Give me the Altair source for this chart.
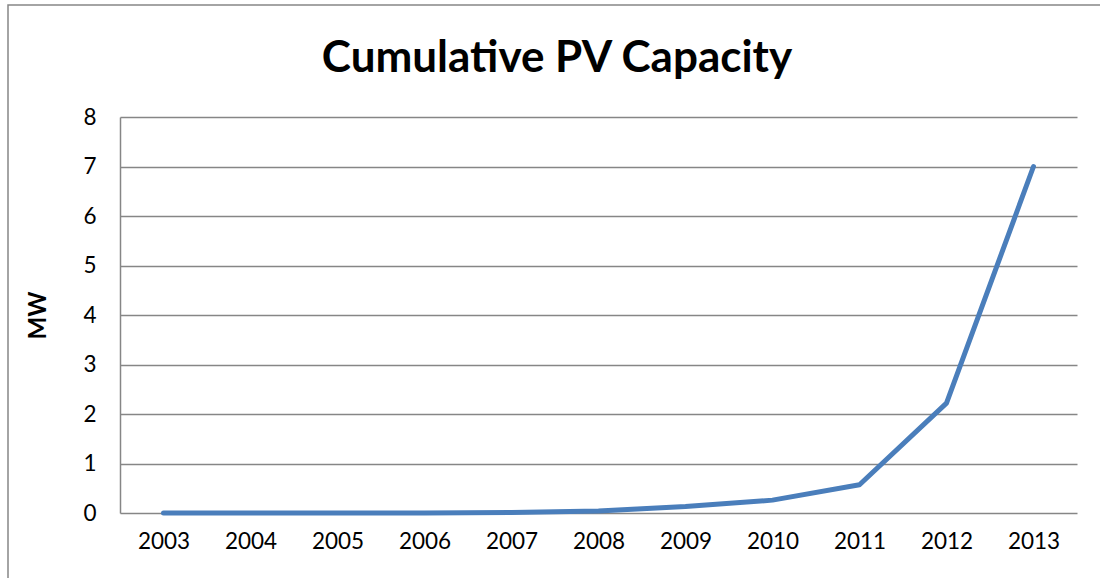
import altair as alt
import pandas as pd

years = ["2003", "2004", "2005", "2006", "2007", "2008", "2009", "2010", "2011", "2012", "2013"]
capacity_mw = [0.0, 0.0, 0.0, 0.0, 0.01, 0.04, 0.13, 0.26, 0.57, 2.22, 7.0]
chart_title = ["Cumulative PV Capacity"]

df = pd.DataFrame({"year": years, "mw": capacity_mw})
title_df = pd.DataFrame({"text": chart_title})

FONT = "Lato"
GRID = "#868686"

line = alt.Chart(df).mark_line(color="#4A7EBB", strokeWidth=5, strokeCap="round", strokeJoin="round").encode(
    x=alt.X("year:O", sort=years, title=None,
            scale=alt.Scale(paddingOuter=0.5, paddingInner=0),
            axis=alt.Axis(labelAngle=0, labelFontSize=22.5, labelFont=FONT, labelColor="#000000",
                          labelPadding=17, ticks=False, domain=False, grid=False)),
    y=alt.Y("mw:Q", title="MW", scale=alt.Scale(domain=[0, 8], nice=False),
            axis=alt.Axis(values=list(range(0, 9)), labelFontSize=22.5, labelFont=FONT,
                          labelColor="#000000", labelPadding=24, ticks=False,
                          domain=True, domainColor=GRID, domainWidth=1.5,
                          grid=True, gridColor=GRID, gridWidth=1.5,
                          titleFont=FONT, titleFontSize=24, titleFontWeight="bold",
                          titleColor="#000000", titleX=-82, titleY=198,
                          titleAlign="center", titleBaseline="middle", titleAngle=-90)),
)

# chart title, centred on the whole chart rather than the plot area
title = alt.Chart(title_df).mark_text(font=FONT, fontSize=44, fontWeight="bold", color="#000000",
                                      align="center", baseline="alphabetic").encode(
    text="text:N", x=alt.value(437), y=alt.value(-45),
)

# outer chart border, drawn in pixel space around the plot area
frame = alt.Chart(title_df).mark_rect(fill=None, stroke=GRID, strokeWidth=1.5).encode(
    x=alt.value(-112), x2=alt.value(1100),
    y=alt.value(-112), y2=alt.value(600),
)

chart = alt.layer(frame, line, title).properties(
    width=957, height=396,
    background="white",
    autosize=alt.AutoSizeParams(type="none"),
    padding={"left": 120, "top": 117, "right": 23, "bottom": 65},
).configure_view(stroke="transparent", strokeWidth=0)

chart.save("out.html", embed_options={"renderer": "svg", "actions": False})
